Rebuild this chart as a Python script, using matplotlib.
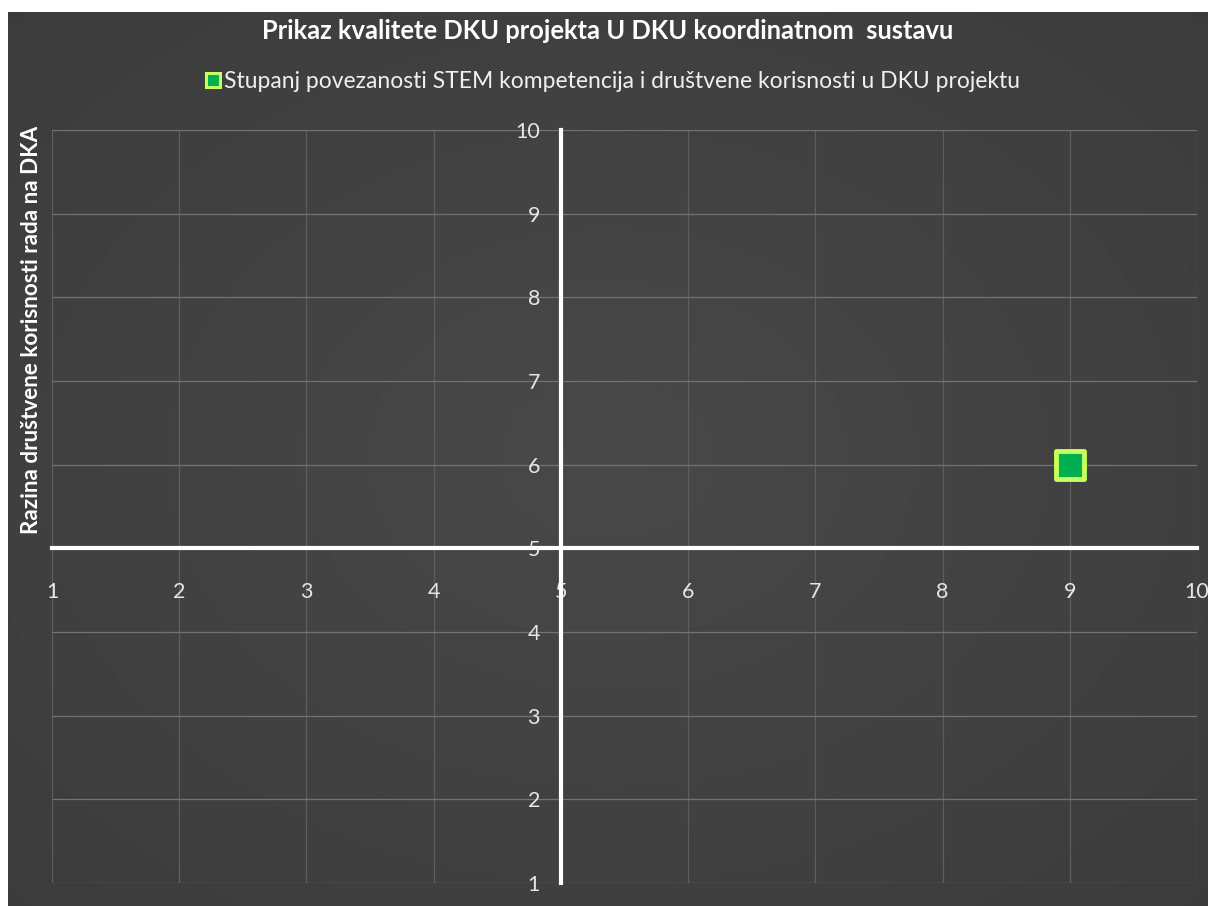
import numpy as np
import matplotlib
matplotlib.use("Agg")
import matplotlib.pyplot as plt
from matplotlib.lines import Line2D

title = "Prikaz kvalitete DKU projekta U DKU koordinatnom  sustavu"
series_name = "Stupanj povezanosti STEM kompetencija i društvene korisnosti u DKU projektu"
y_label = "Razina društvene korisnosti rada na DKA"
x_vals = [9]
y_vals = [6]
ticks = [1, 2, 3, 4, 5, 6, 7, 8, 9, 10]

plt.rcParams['font.family'] = ['Lato', 'DejaVu Sans']

fig = plt.figure(figsize=(12.08, 9.06), dpi=100, facecolor='white')

# dark background with radial gradient
bg = fig.add_axes([8/1208, 0, 1 - 8/1208, 1 - 12/906])
yy, xx = np.mgrid[-1:1:300j, -1:1:400j]
r = np.sqrt(xx**2 + yy**2)
g = 0.285 - 0.05 * np.clip(r / 1.4, 0, 1)
bg.imshow(np.dstack([g, g, g]), aspect='auto', extent=[0, 1, 0, 1])
bg.set_axis_off()

ax = fig.add_axes([52/1208, 1 - 883/906, (1197 - 52)/1208, (883 - 130)/906])
ax.patch.set_alpha(0)
ax.set_xlim(1, 10)
ax.set_ylim(1, 10)
ax.set_xticks(ticks)
ax.set_yticks(ticks)
ax.grid(True, axis='y', color='#737373', linewidth=0.9)
ax.grid(True, axis='x', color='#5e5e5e', linewidth=0.9)
for s in ['top', 'right']:
    ax.spines[s].set_visible(False)
ax.spines['left'].set_position(('data', 5))
ax.spines['bottom'].set_position(('data', 5))
for s in ['left', 'bottom']:
    ax.spines[s].set_color('white')
    ax.spines[s].set_linewidth(3)
    ax.spines[s].set_zorder(3)
ax.tick_params(length=0, colors='#e6e6e6', labelsize=15.5)
ax.tick_params(axis='x', pad=24)
ax.tick_params(axis='y', pad=15)

ax.scatter(x_vals, y_vals, marker='s', s=420, facecolor='#00b050',
           edgecolor='#c8ff5a', linewidth=3.5, zorder=5, clip_on=False)

fig.text(608/1208, 1 - 31/906, title, ha='center', va='center', color='white',
         fontsize=18.4, fontweight='bold')

handle = Line2D([], [], marker='s', linestyle='none', markersize=10,
                markerfacecolor='#00b050', markeredgecolor='#c8ff5a', markeredgewidth=2.2)
fig.legend([handle], [series_name], loc='center', bbox_to_anchor=(612/1208, 1 - 82/906),
           frameon=False, fontsize=16.5, labelcolor='#f0f0f0', handletextpad=0.1,
           handlelength=0.8)

fig.text(32/1208, 1 - 330/906, y_label, rotation=90, ha='center', va='center',
         color='white', fontsize=16.2, fontweight='bold')

fig.savefig('out.png', dpi=100, facecolor=fig.get_facecolor())
